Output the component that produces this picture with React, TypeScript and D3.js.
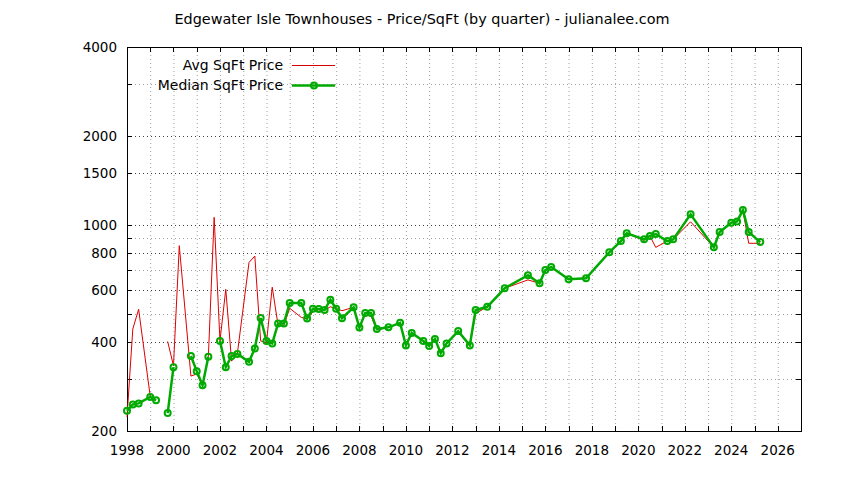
import React, { useEffect, useRef } from "react";
import * as d3 from "d3";

const title = "Edgewater Isle Townhouses - Price/SqFt (by quarter) - julianalee.com";

// quarter position (decimal year) of each data row
const quarters = [
  1998.0, 1998.25, 1998.5, 1999.0, 1999.25, 1999.5, 1999.75, 2000.0, 2000.25, 2000.75,
  2001.0, 2001.25, 2001.5, 2001.75, 2002.0, 2002.25, 2002.5, 2002.75, 2003.25, 2003.5,
  2003.75, 2004.0, 2004.25, 2004.5, 2004.75, 2005.0, 2005.5, 2005.75, 2006.0, 2006.25,
  2006.5, 2006.75, 2007.0, 2007.25, 2007.75, 2008.0, 2008.25, 2008.5, 2008.75, 2009.25,
  2009.75, 2010.0, 2010.25, 2010.75, 2011.0, 2011.25, 2011.5, 2011.75, 2012.25, 2012.75,
  2013.0, 2013.5, 2014.25, 2015.25, 2015.75, 2016.0, 2016.25, 2017.0, 2017.75, 2018.75,
  2019.25, 2019.5, 2020.25, 2020.5, 2020.75, 2021.25, 2021.5, 2022.25, 2023.25, 2023.5,
  2024.0, 2024.25, 2024.5, 2024.75, 2025.25,
];

const avgPrice: (number | null)[] = [
  223, 443, 517, 262, 254, null, 402, 333, 849, 307,
  312, 286, 357, 1059, 404, 604, 345, 367, 745, 783,
  404, 398, 614, 456, 456, 521, 485, 480, 507, 515,
  514, 527, 520, 511, 525, 448, 502, 490, 440, 449,
  465, 390, 428, 404, 388, 410, 367, 396, 436, 390,
  500, 527, 609, 650, 633, 702, 719, 653, 658, 806,
  880, 935, 885, 916, 838, 880, 892, 1023, 838, 944,
  1016, 1026, 1121, 865, 865,
];

const medianPrice: (number | null)[] = [
  234, 246, 248, 261, 254, null, 230, 329, null, 359,
  319, 286, 357, null, 404, 329, 359, 365, 343, 381,
  483, 404, 396, 463, 463, 543, 543, 481, 519, 518,
  514, 557, 519, 482, 525, 448, 502, 502, 443, 449,
  465, 390, 430, 404, 388, 410, 367, 396, 436, 390,
  514, 527, 609, 674, 633, 702, 719, 653, 658, 806,
  880, 935, 892, 916, 930, 880, 892, 1084, 838, 944,
  1016, 1026, 1121, 944, 873,
];

const yTickValues = [200, 300, 400, 500, 600, 700, 800, 900, 1000, 1500, 2000, 3000, 4000];
const yTickLabels = [200, 400, 600, 800, 1000, 1500, 2000, 4000];
const xTickLabels = [1998, 2000, 2002, 2004, 2006, 2008, 2010, 2012, 2014, 2016, 2018, 2020, 2022, 2024, 2026];

const W = 844;
const H = 480;
const FONT = "'DejaVu Sans', sans-serif";
const RED = "#dd0000";
const GREEN = "#00aa00";

export default function App() {
  const ref = useRef<SVGSVGElement>(null);

  useEffect(() => {
    document.body.style.margin = "0";
    const svg = d3.select(ref.current);
    svg.selectAll("*").remove();

    const left = 127, right = 801, top = 47, bottom = 431;
    const x = d3.scaleLinear().domain([1998, 2027]).range([left, right]);
    const y = d3.scaleLog().domain([200, 4000]).range([bottom, top]);

    svg.append("rect").attr("width", W).attr("height", H).attr("fill", "#fff");

    const years = d3.range(1999, 2027);
    const g = svg.append("g");

    // vertical grid
    g.selectAll("line.vg")
      .data(years)
      .join("line")
      .attr("x1", (d) => x(d) + 0.5)
      .attr("x2", (d) => x(d) + 0.5)
      .attr("y1", top)
      .attr("y2", bottom)
      .attr("stroke", "#a0a0a0")
      .attr("stroke-width", 1)
      .attr("stroke-dasharray", "1,3");

    // horizontal grid
    g.selectAll("line.hg")
      .data(yTickValues.filter((v) => v > 200 && v < 4000))
      .join("line")
      .attr("x1", left)
      .attr("x2", right)
      .attr("y1", (d) => Math.round(y(d)) + 0.5)
      .attr("y2", (d) => Math.round(y(d)) + 0.5)
      .attr("stroke", (d) => (yTickLabels.includes(d) ? "#404040" : "#a0a0a0"))
      .attr("stroke-width", 1)
      .attr("stroke-dasharray", "1,3");

    // ticks
    const tk = 5;
    const allYears = d3.range(1998, 2028);
    allYears.forEach((yr) => {
      const px = Math.round(x(yr)) + 0.5;
      g.append("line").attr("x1", px).attr("x2", px).attr("y1", bottom).attr("y2", bottom - tk).attr("stroke", "#000");
      g.append("line").attr("x1", px).attr("x2", px).attr("y1", top).attr("y2", top + tk).attr("stroke", "#000");
    });
    yTickValues.forEach((v) => {
      const py = Math.round(y(v)) + 0.5;
      g.append("line").attr("x1", left).attr("x2", left + tk).attr("y1", py).attr("y2", py).attr("stroke", "#000");
      g.append("line").attr("x1", right).attr("x2", right - tk).attr("y1", py).attr("y2", py).attr("stroke", "#000");
    });

    // border
    g.append("rect")
      .attr("x", left + 0.5)
      .attr("y", top + 0.5)
      .attr("width", right - left)
      .attr("height", bottom - top)
      .attr("fill", "none")
      .attr("stroke", "#000")
      .attr("stroke-width", 1);

    // tick labels
    g.selectAll("text.yl")
      .data(yTickLabels)
      .join("text")
      .attr("x", left - 10)
      .attr("y", (d) => y(d))
      .attr("dy", "0.36em")
      .attr("text-anchor", "end")
      .attr("font-family", FONT)
      .attr("font-size", 13.5)
      .text((d) => String(d));

    g.selectAll("text.xl")
      .data(xTickLabels)
      .join("text")
      .attr("x", (d) => x(d))
      .attr("y", bottom + 24)
      .attr("text-anchor", "middle")
      .attr("font-family", FONT)
      .attr("font-size", 13.5)
      .text((d) => String(d));

    // title
    svg.append("text")
      .attr("x", 422)
      .attr("y", 24)
      .attr("text-anchor", "middle")
      .attr("font-family", FONT)
      .attr("font-size", 14.4)
      .text(title);

    const rows = quarters.map((q, i) => ({ q, avg: avgPrice[i], med: medianPrice[i] }));

    const avgLine = d3
      .line<{ q: number; avg: number | null }>()
      .defined((d) => d.avg != null)
      .x((d) => x(d.q))
      .y((d) => y(d.avg as number));
    g.append("path")
      .attr("d", avgLine(rows) || "")
      .attr("fill", "none")
      .attr("stroke", RED)
      .attr("stroke-width", 1);

    const medLine = d3
      .line<{ q: number; med: number | null }>()
      .defined((d) => d.med != null)
      .x((d) => x(d.q))
      .y((d) => y(d.med as number));
    g.append("path")
      .attr("d", medLine(rows) || "")
      .attr("fill", "none")
      .attr("stroke", GREEN)
      .attr("stroke-width", 2.5);

    g.selectAll("circle.m")
      .data(rows.filter((r) => r.med != null))
      .join("circle")
      .attr("cx", (d) => x(d.q))
      .attr("cy", (d) => y(d.med as number))
      .attr("r", 3)
      .attr("fill", "none")
      .attr("stroke", GREEN)
      .attr("stroke-width", 2);

    // legend
    const lg = svg.append("g");
    lg.append("text")
      .attr("x", 283)
      .attr("y", 65)
      .attr("dy", "0.36em")
      .attr("text-anchor", "end")
      .attr("font-family", FONT)
      .attr("font-size", 14)
      .text("Avg SqFt Price");
    lg.append("line").attr("x1", 292).attr("x2", 335).attr("y1", 65.5).attr("y2", 65.5).attr("stroke", RED).attr("stroke-width", 1);
    lg.append("text")
      .attr("x", 283)
      .attr("y", 85)
      .attr("dy", "0.36em")
      .attr("text-anchor", "end")
      .attr("font-family", FONT)
      .attr("font-size", 14)
      .text("Median SqFt Price");
    lg.append("line").attr("x1", 292).attr("x2", 335).attr("y1", 85.5).attr("y2", 85.5).attr("stroke", GREEN).attr("stroke-width", 2.5);
    lg.append("circle").attr("cx", 314).attr("cy", 85.5).attr("r", 3).attr("fill", "none").attr("stroke", GREEN).attr("stroke-width", 2);
  }, []);

  return <svg ref={ref} width={W} height={H} style={{ display: "block" }} />;
}
